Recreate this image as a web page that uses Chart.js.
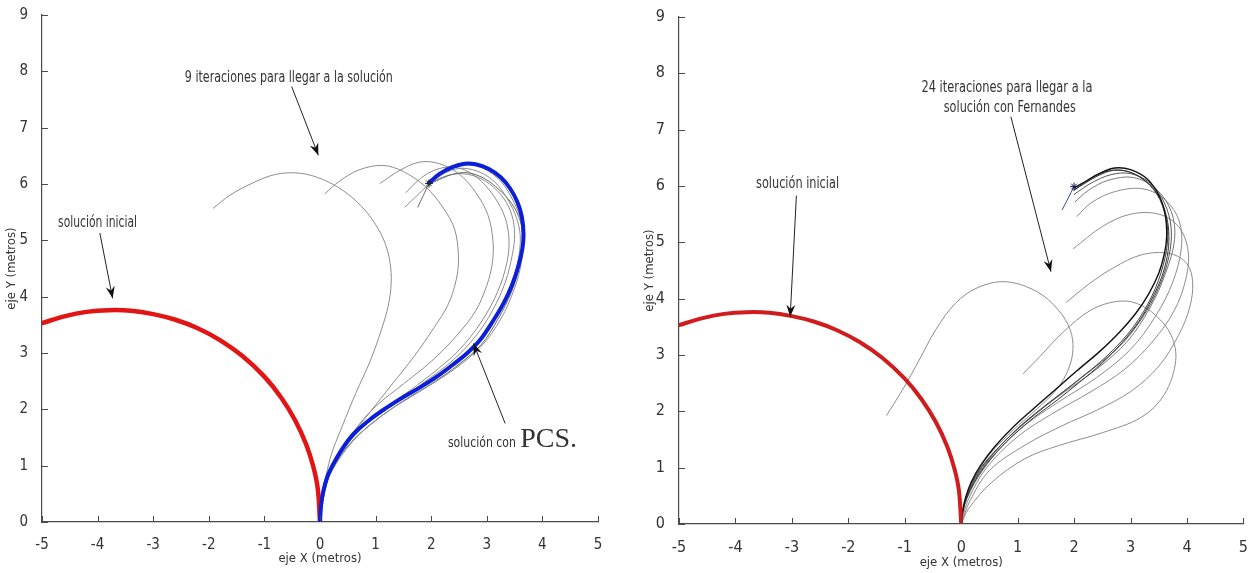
<!DOCTYPE html>
<html>
<head>
<meta charset="utf-8">
<script src="https://cdn.jsdelivr.net/npm/chart.js@4.4.1/dist/chart.umd.min.js"></script>
<style>
  html,body{margin:0;padding:0;background:#fff;}
  #wrap{position:relative;width:1254px;height:573px;overflow:hidden;}
  canvas{position:absolute;top:0;}
  #left{left:0;}
  #right{left:627px;}
</style>
</head>
<body>
<div id="wrap">
  <canvas id="left" width="627" height="573"></canvas>
  <canvas id="right" width="627" height="573"></canvas>
</div>
<script>
// ejes
const X_TICKS = [-5,-4,-3,-2,-1,0,1,2,3,4,5];
const Y_TICKS = [0,1,2,3,4,5,6,7,8,9];

// solución inicial (igual en los dos gráficos)
const initX = [-5, -4.6, -4.2, -3.8, -3.4, -3.0, -2.6, -2.2, -1.8, -1.4, -1.0, -0.7, -0.45, -0.25, -0.12, -0.04, 0];
const initY = [3.53, 3.65, 3.73, 3.76, 3.75, 3.69, 3.59, 3.44, 3.23, 2.95, 2.58, 2.21, 1.81, 1.38, 0.98, 0.59, 0];

// --- izquierda: PCS, 9 iteraciones ---
const pcsX = [0, 0.02, 0.06, 0.13, 0.24, 0.4, 0.6, 0.9, 1.2, 1.5, 1.8, 2.1, 2.4, 2.65, 2.87, 3.1, 3.3, 3.45, 3.57, 3.64, 3.66, 3.63, 3.55, 3.42, 3.25, 3.03, 2.8, 2.6, 2.38, 2.15, 1.96];
const pcsY = [0, 0.3, 0.55, 0.8, 1.03, 1.3, 1.56, 1.82, 2.03, 2.22, 2.39, 2.58, 2.8, 3.0, 3.22, 3.55, 3.88, 4.2, 4.55, 4.85, 5.12, 5.42, 5.68, 5.92, 6.12, 6.27, 6.35, 6.36, 6.3, 6.18, 6.02];

const itAX = [0, 0.04, 0.18, 0.4, 0.65, 0.9, 1.1, 1.23, 1.28, 1.26, 1.17, 1.0, 0.75, 0.42, 0.05, -0.35, -0.8, -1.25, -1.62, -1.92];
const itAY = [0, 0.4, 1.12, 1.7, 2.3, 2.85, 3.4, 3.85, 4.25, 4.6, 4.95, 5.28, 5.6, 5.88, 6.08, 6.19, 6.17, 6.0, 5.8, 5.57];
const itBX = [0, 0.06, 0.2, 0.5, 0.9, 1.3, 1.7, 2.05, 2.3, 2.45, 2.49, 2.42, 2.2, 1.9, 1.5, 1.13, 0.7, 0.35, 0.09];
const itBY = [0, 0.45, 0.95, 1.45, 1.95, 2.45, 2.95, 3.45, 3.85, 4.3, 4.7, 5.2, 5.6, 5.95, 6.22, 6.33, 6.25, 6.05, 5.83];
const itCX = [0, 0.08, 0.25, 0.6, 1.0, 1.5, 2.0, 2.45, 2.8, 3.0, 3.1, 3.11, 3.02, 2.8, 2.5, 2.15, 1.8, 1.45, 1.08];
const itCY = [0, 0.5, 1.05, 1.6, 2.05, 2.45, 2.85, 3.3, 3.75, 4.2, 4.6, 5.0, 5.45, 5.85, 6.18, 6.36, 6.39, 6.25, 6.01];
const itDX = [0, 0.04, 0.2, 0.5, 0.9, 1.4, 1.9, 2.4, 2.8, 3.1, 3.33, 3.46, 3.5, 3.45, 3.3, 3.05, 2.75, 2.45, 2.15, 1.95, 1.75, 1.53];
const itDY = [0, 0.4, 0.95, 1.4, 1.8, 2.15, 2.5, 2.88, 3.3, 3.75, 4.25, 4.75, 5.1, 5.45, 5.75, 6.0, 6.15, 6.18, 6.1, 5.98, 5.8, 5.59];
const itEX = [0, 0.03, 0.18, 0.5, 1.0, 1.5, 2.0, 2.5, 2.9, 3.2, 3.45, 3.6, 3.65, 3.6, 3.45, 3.22, 2.95, 2.65, 2.38, 2.15, 1.96, 1.86, 1.76];
const itEY = [0, 0.3, 0.85, 1.35, 1.8, 2.15, 2.45, 2.8, 3.15, 3.6, 4.1, 4.6, 5.0, 5.35, 5.65, 5.9, 6.1, 6.2, 6.17, 6.08, 5.98, 5.8, 5.59];
const itFX = [0, 0.03, 0.14, 0.4, 0.9, 1.5, 2.1, 2.6, 2.95, 3.25, 3.47, 3.58, 3.6, 3.53, 3.38, 3.17, 2.9, 2.57, 2.3, 2.1, 1.96];
const itFY = [0, 0.32, 0.8, 1.28, 1.8, 2.2, 2.55, 2.95, 3.35, 3.8, 4.3, 4.75, 5.1, 5.41, 5.72, 6.01, 6.2, 6.28, 6.22, 6.1, 6.0];
const itGX = [0, 0.02, 0.1, 0.3, 0.7, 1.2, 1.8, 2.4, 2.9, 3.25, 3.5, 3.62, 3.65, 3.6, 3.45, 3.25, 2.95, 2.65, 2.35, 2.12, 1.96];
const itGY = [0, 0.28, 0.65, 1.05, 1.55, 1.95, 2.32, 2.7, 3.12, 3.6, 4.15, 4.6, 5.0, 5.4, 5.75, 6.05, 6.27, 6.34, 6.28, 6.16, 6.0];
const itHX = [0, 0.05, 0.22, 0.55, 1.0, 1.5, 2.0, 2.5, 2.9, 3.2, 3.36, 3.4, 3.33, 3.15, 2.9, 2.6, 2.3, 2.0, 1.75, 1.55];
const itHY = [0, 0.42, 0.97, 1.45, 1.88, 2.25, 2.62, 3.05, 3.55, 4.1, 4.6, 5.0, 5.4, 5.75, 6.05, 6.25, 6.3, 6.22, 6.05, 5.85];

// --- derecha: Fernandes, 24 iteraciones ---
const fernX = [0, 0.03, 0.08, 0.18, 0.35, 0.6, 0.9, 1.25, 1.65, 2.05, 2.45, 2.8, 3.1, 3.33, 3.5, 3.6, 3.64, 3.62, 3.52, 3.3, 3.0, 2.72, 2.44, 2.2, 1.99];
const fernY = [0, 0.25, 0.48, 0.75, 1.05, 1.38, 1.7, 2.02, 2.37, 2.72, 3.06, 3.4, 3.75, 4.1, 4.45, 4.8, 5.1, 5.45, 5.8, 6.12, 6.29, 6.32, 6.22, 6.08, 5.96];

const r1X = [0, 0.1, 0.4, 0.85, 1.35, 1.7, 1.9, 1.98, 1.93, 1.72, 1.35, 0.8, 0.3, -0.1, -0.45, -0.75, -1.0, -1.32];
const r1Y = [0, 0.5, 1.1, 1.6, 2.05, 2.4, 2.75, 3.1, 3.45, 3.8, 4.12, 4.3, 4.2, 3.92, 3.45, 2.9, 2.45, 1.93];
const r2X = [0, 0.13, 0.54, 1.13, 1.72, 2.5, 3.2, 3.6, 3.8, 3.72, 3.45, 3.1, 2.75, 2.3, 1.8, 1.4, 1.1];
const r2Y = [0, 0.27, 0.74, 1.16, 1.39, 1.62, 1.9, 2.3, 2.9, 3.35, 3.7, 3.92, 3.95, 3.8, 3.4, 2.98, 2.67];
const r3X = [0, 0.15, 0.5, 1.13, 1.8, 2.4, 3.0, 3.5, 3.85, 4.05, 4.1, 4.0, 3.7, 3.2, 2.7, 2.25, 1.87];
const r3Y = [0, 0.4, 0.95, 1.4, 1.75, 2.02, 2.35, 2.8, 3.35, 3.85, 4.3, 4.62, 4.8, 4.78, 4.55, 4.25, 3.94];
const r4X = [0, 0.12, 0.45, 1.0, 1.6, 2.3, 2.9, 3.4, 3.78, 3.98, 4.02, 3.85, 3.5, 3.0, 2.5, 1.99];
const r4Y = [0, 0.42, 1.0, 1.55, 1.95, 2.35, 2.75, 3.25, 3.8, 4.35, 4.85, 5.28, 5.5, 5.5, 5.28, 4.89];
const r5X = [0, 0.1, 0.45, 1.0, 1.7, 2.4, 3.0, 3.45, 3.75, 3.9, 3.86, 3.62, 3.22, 2.72, 2.3, 2.05];
const r5Y = [0, 0.45, 1.05, 1.65, 2.15, 2.6, 3.1, 3.7, 4.3, 4.9, 5.38, 5.75, 5.95, 5.9, 5.7, 5.46];
const r6X = [0, 0.08, 0.42, 1.0, 1.7, 2.4, 2.95, 3.35, 3.62, 3.78, 3.72, 3.45, 3.05, 2.6, 2.25, 2.02];
const r6Y = [0, 0.45, 1.05, 1.7, 2.25, 2.75, 3.25, 3.85, 4.45, 5.05, 5.55, 5.95, 6.15, 6.1, 5.92, 5.72];
const r7X = [0, 0.05, 0.3, 0.8, 1.5, 2.2, 2.8, 3.2, 3.5, 3.68, 3.72, 3.6, 3.35, 3.0, 2.65, 2.3, 2.0];
const r7Y = [0, 0.35, 0.9, 1.5, 2.1, 2.65, 3.15, 3.65, 4.2, 4.75, 5.25, 5.7, 6.05, 6.22, 6.2, 6.05, 5.85];
const r8X = [0, 0.04, 0.25, 0.7, 1.3, 2.0, 2.6, 3.05, 3.38, 3.58, 3.66, 3.6, 3.4, 3.05, 2.7, 2.38, 2.0];
const r8Y = [0, 0.3, 0.85, 1.4, 1.95, 2.5, 3.0, 3.5, 4.05, 4.6, 5.1, 5.55, 5.95, 6.22, 6.28, 6.18, 5.93];
const r9X = [0, 0.03, 0.1, 0.22, 0.4, 0.65, 0.95, 1.3, 1.7, 2.1, 2.5, 2.85, 3.15, 3.38, 3.55, 3.65, 3.68, 3.64, 3.52, 3.28, 2.98, 2.7, 2.42, 2.18, 2.0];
const r9Y = [0, 0.24, 0.46, 0.72, 1.0, 1.3, 1.6, 1.9, 2.2, 2.52, 2.86, 3.22, 3.6, 4.0, 4.38, 4.75, 5.1, 5.45, 5.78, 6.08, 6.25, 6.28, 6.18, 6.04, 5.93];

// objetivo (asterisco) y orientación
const goalLX = [1.96], goalLY = [6.01];
const goalRX = [2.0], goalRY = [5.99];
const headRX = [2.0, 1.79], headRY = [5.99, 5.58];

const NARROW = '"Liberation Sans Narrow", "DejaVu Sans Condensed", "Arial Narrow", sans-serif';
const SERIF = '"Liberation Serif", "DejaVu Serif", serif';
const AXIS_COLOR = '#4a4a4a';
const TEXT_COLOR = '#333';

// textos y flechas (en unidades de datos)
const leftNotes = [
  {text:'9 iteraciones para llegar a la solución', x:-0.56, y:7.81, font:'15px '+NARROW, w:208},
  {text:'solución inicial', x:-4.0, y:5.23, font:'15px '+NARROW, w:79},
  {text:'solución con', x:2.3, y:1.34, font:'14px '+NARROW, w:68, align:'left'},
  {text:'PCS.', x:3.6, y:1.34, font:'28px '+SERIF, align:'left'}
];
const leftArrows = [
  [-0.51, 7.73, -0.03, 6.51],
  [-3.96, 5.13, -3.73, 3.97],
  [3.33, 1.75, 2.76, 3.17]
];
const rightNotes = [
  {text:'24 iteraciones para llegar a la', x:0.81, y:7.67, font:'16px '+NARROW, w:171},
  {text:'solución con Fernandes', x:0.86, y:7.32, font:'16px '+NARROW, w:132},
  {text:'solución inicial', x:-2.9, y:5.96, font:'15px '+NARROW, w:83}
];
const rightArrows = [
  [0.88, 7.23, 1.59, 4.48],
  [-2.92, 5.83, -3.03, 3.68]
];

function pts(xs, ys){ return xs.map((x,i)=>({x:x, y:ys[i]})); }
function curve(xs, ys, color, width){
  return {data:pts(xs,ys), showLine:true, borderColor:color, borderWidth:width,
    pointRadius:0, tension:0.35, fill:false, borderCapStyle:'round', borderJoinStyle:'round'};
}
function star(xs, ys, color){
  return {data:pts(xs,ys), showLine:false, pointStyle:'star', pointRadius:4,
    borderColor:color, backgroundColor:color, borderWidth:1};
}

function drawArrow(ctx, x1, y1, x2, y2){
  const a = Math.atan2(y2-y1, x2-x1);
  ctx.beginPath(); ctx.moveTo(x1,y1); ctx.lineTo(x2,y2); ctx.stroke();
  ctx.save();
  ctx.translate(x2,y2); ctx.rotate(a);
  ctx.beginPath();
  ctx.moveTo(0,0); ctx.lineTo(-12,-4.5); ctx.lineTo(-8,0); ctx.lineTo(-12,4.5);
  ctx.closePath(); ctx.fill();
  ctx.restore();
}

// ticks hacia dentro + anotaciones
function overlay(notes, arrows){
  return {
    id:'overlay',
    afterDatasetsDraw(chart){
      const ctx = chart.ctx, sx = chart.scales.x, sy = chart.scales.y, area = chart.chartArea;
      ctx.save();
      ctx.strokeStyle = AXIS_COLOR; ctx.lineWidth = 1;
      sx.ticks.forEach(t=>{
        const p = Math.round(sx.getPixelForValue(t.value)) + 0.5;
        ctx.beginPath(); ctx.moveTo(p, area.bottom); ctx.lineTo(p, area.bottom-6); ctx.stroke();
      });
      sy.ticks.forEach(t=>{
        const p = Math.round(sy.getPixelForValue(t.value)) + 0.5;
        ctx.beginPath(); ctx.moveTo(area.left, p); ctx.lineTo(area.left+6, p); ctx.stroke();
      });
      ctx.strokeStyle = '#222'; ctx.fillStyle = '#111'; ctx.lineWidth = 1;
      arrows.forEach(a=> drawArrow(ctx, sx.getPixelForValue(a[0]), sy.getPixelForValue(a[1]),
                                        sx.getPixelForValue(a[2]), sy.getPixelForValue(a[3])));
      ctx.fillStyle = TEXT_COLOR; ctx.textBaseline = 'alphabetic';
      notes.forEach(n=>{
        ctx.font = n.font; ctx.textAlign = n.align || 'center';
        const px = sx.getPixelForValue(n.x), py = sy.getPixelForValue(n.y);
        if(n.w) ctx.fillText(n.text, px, py, n.w); else ctx.fillText(n.text, px, py);
      });
      ctx.restore();
    }
  };
}

function scalesFor(c){
  return {
    x:{type:'linear', min:-5, max:5,
      afterBuildTicks: s=>{ s.ticks = X_TICKS.map(v=>({value:v})); },
      afterFit: s=>{ s.height = c.xHeight; },
      grid:{display:false},
      border:{display:true, color:AXIS_COLOR, width:1.2},
      ticks:{color:TEXT_COLOR, padding:6, autoSkip:false, maxRotation:0, font:{family:NARROW, size:c.tick}},
      title:{display:true, text:'eje X (metros)', color:TEXT_COLOR, font:{family:NARROW, size:13}, padding:{top:0, bottom:c.xPad}}
    },
    y:{type:'linear', min:0, max:9,
      afterBuildTicks: s=>{ s.ticks = Y_TICKS.map(v=>({value:v})); },
      afterFit: s=>{ s.width = c.yWidth; },
      grid:{display:false},
      border:{display:true, color:AXIS_COLOR, width:1.2},
      ticks:{color:TEXT_COLOR, padding:6, autoSkip:false, font:{family:NARROW, size:c.tick}},
      title:{display:true, text:'eje Y (metros)', color:TEXT_COLOR, font:{family:NARROW, size:13}, padding:{top:c.yPad, bottom:0}}
    }
  };
}

function baseOptions(c){
  return {
    responsive:false, animation:false, devicePixelRatio:1,
    layout:{padding:{top:c.top, right:c.right, left:0, bottom:0}},
    plugins:{legend:{display:false}, tooltip:{enabled:false}},
    scales: scalesFor(c)
  };
}

const GRAY = '#8c8c8c';

new Chart(document.getElementById('left'), {
  type:'scatter',
  data:{datasets:[
    star(goalLX, goalLY, '#222'),
    curve(pcsX, pcsY, '#0b1ed8', 4),
    curve(initX, initY, '#e31414', 4.5),
    curve(itGX, itGY, GRAY, 1),
    curve(itFX, itFY, GRAY, 1),
    curve(itEX, itEY, '#666', 1),
    curve(itDX, itDY, GRAY, 1),
    curve(itHX, itHY, GRAY, 1),
    curve(itCX, itCY, GRAY, 1),
    curve(itBX, itBY, GRAY, 1),
    curve(itAX, itAY, GRAY, 1)
  ]},
  options: baseOptions({top:15, right:29, xHeight:51, yWidth:42, xPad:7, yPad:4, tick:15}),
  plugins:[overlay(leftNotes, leftArrows)]
});

new Chart(document.getElementById('right'), {
  type:'scatter',
  data:{datasets:[
    star(goalRX, goalRY, '#1a1a40'),
    curve(headRX, headRY, '#3344bb', 1),
    curve(initX, initY, '#d01c1c', 4),
    curve(fernX, fernY, '#111', 1.4),
    curve(r9X, r9Y, '#333', 1),
    curve(r8X, r8Y, '#444', 1),
    curve(r7X, r7Y, '#555', 1),
    curve(r6X, r6Y, '#777', 1),
    curve(r5X, r5Y, GRAY, 1),
    curve(r4X, r4Y, GRAY, 1),
    curve(r3X, r3Y, GRAY, 1),
    curve(r2X, r2Y, GRAY, 1),
    curve(r1X, r1Y, GRAY, 1)
  ]},
  options: baseOptions({top:17, right:9, xHeight:49, yWidth:52, xPad:3, yPad:15, tick:16}),
  plugins:[overlay(rightNotes, rightArrows)]
});
</script>
</body>
</html>
